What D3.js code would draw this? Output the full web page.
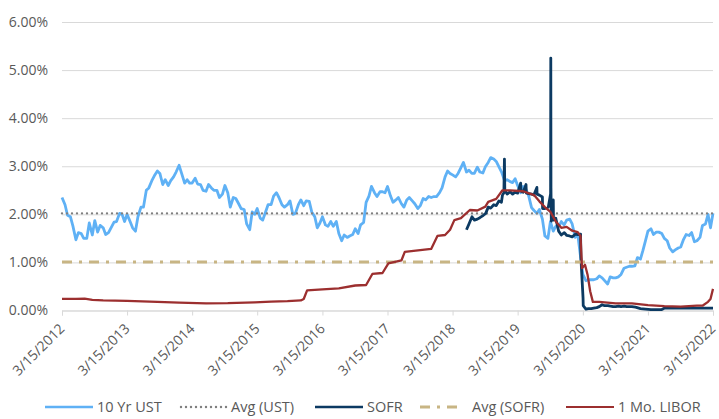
<!DOCTYPE html>
<html>
<head>
<meta charset="utf-8">
<script src="https://cdn.jsdelivr.net/npm/d3@7/dist/d3.min.js"></script>
<style>
	body { margin: 0; background: #fff; }
	svg text { font-family: "Open Sans", sans-serif; fill: #595959; }
</style>
</head>
<body>
<div id="chart"></div>
<script>
// 10 Yr UST, one reading on the 1st and 15th of each month, from 3/15/2012 to 3/15/2022
const ustValues = [
	/* 2012 */ 2.35, 2.20, 1.98, 1.95, 1.76, 1.47, 1.62, 1.60, 1.50, 1.50, 1.82, 1.57, 1.87, 1.63, 1.77, 1.72, 1.58, 1.62, 1.72,
	/* 2013 */ 1.84, 1.85, 2.02, 2.00, 1.85, 2.00, 1.85, 1.72, 1.65, 1.95, 2.15, 2.15, 2.50, 2.55, 2.70, 2.80, 2.90, 2.85, 2.62, 2.72, 2.60, 2.70, 2.78, 2.88,
	/* 2014 */ 3.02, 2.85, 2.65, 2.72, 2.65, 2.65, 2.75, 2.63, 2.62, 2.50, 2.48, 2.62, 2.55, 2.50, 2.50, 2.35, 2.42, 2.60, 2.45, 2.15, 2.35, 2.33, 2.22, 2.12,
	/* 2015 */ 2.10, 1.80, 1.68, 2.05, 2.00, 2.12, 1.92, 1.88, 2.05, 2.20, 2.20, 2.38, 2.45, 2.35, 2.20, 2.15, 2.20, 2.28, 2.00, 2.02, 2.20, 2.30, 2.18, 2.28,
	/* 2016 */ 2.27, 2.05, 1.95, 1.72, 1.82, 1.95, 1.78, 1.75, 1.85, 1.75, 1.85, 1.60, 1.45, 1.57, 1.52, 1.55, 1.58, 1.70, 1.60, 1.78, 1.83, 2.25, 2.38, 2.58,
	/* 2017 */ 2.45, 2.37, 2.47, 2.47, 2.45, 2.58, 2.38, 2.25, 2.30, 2.35, 2.22, 2.15, 2.30, 2.35, 2.28, 2.22, 2.12, 2.18, 2.33, 2.30, 2.37, 2.35, 2.37, 2.37,
	/* 2018 */ 2.45, 2.55, 2.78, 2.90, 2.85, 2.82, 2.78, 2.85, 2.97, 3.08, 2.88, 2.92, 2.85, 2.85, 2.98, 2.88, 2.86, 2.99, 3.08, 3.18, 3.15, 3.10, 2.98, 2.88,
	/* 2019 */ 2.70, 2.72, 2.68, 2.66, 2.74, 2.60, 2.45, 2.58, 2.51, 2.40, 2.14, 2.08, 2.02, 2.10, 1.90, 1.55, 1.50, 1.85, 1.65, 1.75, 1.75, 1.85, 1.78, 1.88,
	/* 2020 */ 1.90, 1.80, 1.52, 1.59, 1.15, 0.75, 0.62, 0.64, 0.64, 0.64, 0.66, 0.72, 0.68, 0.62, 0.55, 0.70, 0.68, 0.68, 0.70, 0.75, 0.88, 0.90, 0.92, 0.92,
	/* 2021 */ 0.93, 1.10, 1.07, 1.25, 1.45, 1.65, 1.70, 1.58, 1.63, 1.63, 1.60, 1.50, 1.45, 1.30, 1.22, 1.26, 1.30, 1.32, 1.48, 1.58, 1.56, 1.62, 1.43, 1.45,
	/* 2022 */ 1.52, 1.77, 1.80, 2.00, 1.72, 2.02
];

const sofrDates = [
	"2018-06-01", "2018-06-15", "2018-07-02", "2018-07-16", "2018-08-01", "2018-08-15", "2018-09-04", "2018-09-17",
	"2018-10-01", "2018-10-15", "2018-11-01", "2018-11-15", "2018-11-30", "2018-12-14", "2018-12-20", "2018-12-28",
	"2018-12-31", "2019-01-02", "2019-01-15", "2019-02-01", "2019-02-15", "2019-03-01", "2019-03-15", "2019-04-01",
	"2019-04-03", "2019-04-15", "2019-05-01", "2019-05-03", "2019-05-15", "2019-06-03", "2019-06-14", "2019-07-01",
	"2019-07-02", "2019-07-15", "2019-08-01", "2019-08-02", "2019-08-15", "2019-09-03", "2019-09-16", "2019-09-17",
	"2019-09-18", "2019-09-20", "2019-10-01", "2019-10-02", "2019-10-15", "2019-10-31", "2019-11-15", "2019-12-02",
	"2019-12-16", "2019-12-31", "2020-01-15", "2020-02-03", "2020-02-14", "2020-03-02", "2020-03-04", "2020-03-16",
	"2020-03-17", "2020-04-01", "2020-04-15", "2020-05-01", "2020-05-15", "2020-06-01", "2020-06-15", "2020-07-01",
	"2020-07-15", "2020-08-03", "2020-08-17", "2020-09-01", "2020-09-15", "2020-10-01", "2020-10-15", "2020-11-02",
	"2020-11-16", "2020-12-01", "2020-12-15", "2021-01-04", "2021-02-01", "2021-03-01", "2021-04-01", "2021-05-03",
	"2021-06-01", "2021-06-17", "2021-07-01", "2021-08-02", "2021-09-01", "2021-10-01", "2021-11-01", "2021-12-01",
	"2022-01-03", "2022-02-01", "2022-03-01", "2022-03-15"
];
const sofrValues = [
	1.68, 1.80, 1.95, 1.88, 1.90, 1.93, 1.98, 2.02,
	2.15, 2.13, 2.20, 2.18, 2.28, 2.25, 2.40, 2.45,
	3.15, 2.50, 2.42, 2.47, 2.42, 2.46, 2.44, 2.65,
	2.48, 2.46, 2.62, 2.44, 2.43, 2.42, 2.40, 2.56,
	2.42, 2.40, 2.36, 2.12, 2.12, 2.15, 2.43, 5.25,
	2.55, 1.86, 2.30, 1.88, 1.92, 1.65, 1.57, 1.62,
	1.56, 1.55, 1.53, 1.59, 1.58, 1.59, 1.10, 0.26,
	0.10, 0.03, 0.04, 0.04, 0.05, 0.06, 0.08, 0.12,
	0.10, 0.10, 0.09, 0.08, 0.08, 0.09, 0.08, 0.09,
	0.08, 0.08, 0.08, 0.07, 0.04, 0.03, 0.02, 0.02,
	0.02, 0.05, 0.05, 0.05, 0.05, 0.05, 0.05, 0.05,
	0.05, 0.05, 0.05, 0.05
];

const liborDates = [
	"2012-03-15", "2012-06-01", "2012-07-20", "2012-09-01", "2012-11-01", "2013-03-15", "2013-09-01", "2014-01-01",
	"2014-06-01", "2014-10-01", "2015-03-01", "2015-06-01", "2015-09-01", "2015-11-15", "2015-12-01", "2015-12-20",
	"2016-03-15", "2016-06-15", "2016-09-15", "2016-11-15", "2016-12-20", "2017-02-15", "2017-03-20", "2017-06-01",
	"2017-06-20", "2017-11-15", "2017-12-20", "2018-02-01", "2018-03-01", "2018-03-25", "2018-05-01", "2018-06-20",
	"2018-08-01", "2018-09-15", "2018-10-01", "2018-11-15", "2018-12-20", "2019-02-01", "2019-04-15", "2019-05-15",
	"2019-06-15", "2019-07-15", "2019-08-15", "2019-09-15", "2019-10-15", "2019-11-15", "2019-12-15", "2020-01-15",
	"2020-02-15", "2020-03-02", "2020-03-10", "2020-03-20", "2020-03-27", "2020-04-10", "2020-04-25", "2020-05-10",
	"2020-06-15", "2020-09-15", "2020-12-15", "2021-03-15", "2021-06-15", "2021-09-15", "2021-12-15", "2022-01-15",
	"2022-02-15", "2022-03-01", "2022-03-15"
];
const liborValues = [
	0.24, 0.24, 0.245, 0.22, 0.21, 0.20, 0.18, 0.165,
	0.15, 0.153, 0.17, 0.185, 0.195, 0.21, 0.24, 0.42,
	0.44, 0.46, 0.52, 0.53, 0.76, 0.78, 0.98, 1.04,
	1.22, 1.28, 1.55, 1.57, 1.68, 1.88, 1.92, 2.09,
	2.08, 2.16, 2.26, 2.32, 2.50, 2.50, 2.48, 2.44,
	2.40, 2.27, 2.15, 2.05, 1.85, 1.72, 1.74, 1.66,
	1.63, 1.55, 0.88, 0.92, 0.95, 0.75, 0.40, 0.18,
	0.18, 0.15, 0.15, 0.11, 0.09, 0.08, 0.10, 0.10,
	0.18, 0.24, 0.45
];

const avgUST = 2.02;
const avgSOFR = 1.01;
const yTicks = [0, 1, 2, 3, 4, 5, 6];
const xTickDates = ["2012-03-15", "2013-03-15", "2014-03-15", "2015-03-15", "2016-03-15", "2017-03-15",
	"2018-03-15", "2019-03-15", "2020-03-15", "2021-03-15", "2022-03-15"];
const legendLabels = ["10 Yr UST", "Avg (UST)", "SOFR", "Avg (SOFR)", "1 Mo. LIBOR"];

const parse = d3.timeParse("%Y-%m-%d");
const fmt = d3.timeFormat("%-m/%-d/%Y");

// half-month sampling of the UST readings
const ust = ustValues.map((v, i) => {
	const d = d3.timeMonth.offset(new Date(2012, 2, 1), Math.floor((i + 1) / 2));
	d.setDate(i % 2 === 1 ? 1 : 15);
	return {date: d, value: v};
});
const sofr = sofrDates.map((d, i) => ({date: parse(d), value: sofrValues[i]}));
const libor = liborDates.map((d, i) => ({date: parse(d), value: liborValues[i]}));

// container
const margin = {top: 22, right: 6, bottom: 108.5, left: 62};
const totalW = 719, totalH = 419;
const width = totalW - margin.left - margin.right;
const height = totalH - margin.top - margin.bottom;

const x = d3.scaleTime()
	.domain([parse(xTickDates[0]), parse(xTickDates[xTickDates.length - 1])])
	.range([0, width]);
const y = d3.scaleLinear()
	.domain([0, 6])
	.range([height, 0]);

/* eslint-disable indent */
const root = d3.select("#chart")
	.append("svg")
		.attr("width", totalW)
		.attr("height", totalH);
const svg = root.append("g")
		.attr("transform", `translate(${margin.left},${margin.top})`);

// gridlines + y labels
svg.append("g")
		.call(d3.axisLeft(y).tickValues(yTicks).tickSize(-width).tickFormat(d => d.toFixed(2) + "%"))
		.call(g => g.select(".domain").remove())
		.call(g => g.selectAll(".tick line").attr("stroke", "#d9d9d9").attr("stroke-width", 1))
	.selectAll("text")
		.attr("x", -14)
		.attr("font-size", "14px")
		.style("font-family", "'Open Sans', sans-serif");

// X axis
svg.append("g")
		.attr("transform", `translate(0,${height})`)
		.call(d3.axisBottom(x).tickValues(xTickDates.map(parse)).tickSize(5).tickFormat(fmt))
		.call(g => g.select(".domain").attr("stroke", "#d9d9d9"))
		.call(g => g.selectAll(".tick line").attr("stroke", "#d9d9d9"))
	.selectAll("text")
		.attr("font-size", "14px")
		.attr("y", 0)
		.attr("dy", 0)
		.attr("transform", "translate(3,19)rotate(-45)")
		.style("text-anchor", "end");

const line = d3.line()
	.x(d => x(d.date))
	.y(d => y(d.value));

// 10 Yr UST
svg.append("path")
		.datum(ust)
		.attr("fill", "none")
		.attr("stroke", "#5fb1f5")
		.attr("stroke-width", 2.8)
		.attr("stroke-linejoin", "round")
		.attr("d", line);

// average of UST
svg.append("line")
		.attr("x1", 0).attr("x2", width)
		.attr("y1", y(avgUST)).attr("y2", y(avgUST))
		.attr("stroke", "#7f7f7f")
		.attr("stroke-width", 2.4)
		.attr("stroke-linecap", "round")
		.attr("stroke-dasharray", "0 5");

// SOFR
svg.append("path")
		.datum(sofr)
		.attr("fill", "none")
		.attr("stroke", "#0c3a62")
		.attr("stroke-width", 2.8)
		.attr("stroke-linejoin", "round")
		.attr("d", line);

// average of SOFR
svg.append("line")
		.attr("x1", 0).attr("x2", width)
		.attr("y1", y(avgSOFR)).attr("y2", y(avgSOFR))
		.attr("stroke", "#c8b584")
		.attr("stroke-width", 3)
		.attr("stroke-dasharray", "10 7 3 7");

// 1 Mo. LIBOR
svg.append("path")
		.datum(libor)
		.attr("fill", "none")
		.attr("stroke", "#9c2f2f")
		.attr("stroke-width", 2.3)
		.attr("stroke-linejoin", "round")
		.attr("d", line);

// legend
const legendX = [45, 179, 315, 420, 566];
const legendStyles = [
	{stroke: "#5fb1f5", width: 2.6, dash: null, cap: "butt"},
	{stroke: "#7f7f7f", width: 2.4, dash: "0 5", cap: "round"},
	{stroke: "#0c3a62", width: 2.6, dash: null, cap: "butt"},
	{stroke: "#c8b584", width: 3, dash: "10 7 3 7", cap: "butt"},
	{stroke: "#9c2f2f", width: 2.2, dash: null, cap: "butt"}
];
const legend = root.append("g")
		.attr("transform", "translate(0,407)");
const items = legend.selectAll("g")
	.data(legendLabels)
	.join("g")
		.attr("transform", (d, i) => `translate(${legendX[i]},0)`);
items.append("line")
		.attr("x1", (d, i) => legendStyles[i].cap === "round" ? 2 : 0)
		.attr("x2", (d, i) => i === 3 ? 41 : 48)
		.attr("y1", 0).attr("y2", 0)
		.attr("stroke", (d, i) => legendStyles[i].stroke)
		.attr("stroke-width", (d, i) => legendStyles[i].width)
		.attr("stroke-linecap", (d, i) => legendStyles[i].cap)
		.attr("stroke-dasharray", (d, i) => legendStyles[i].dash);
items.append("text")
		.attr("x", 52)
		.attr("y", 0)
		.attr("dy", "0.35em")
		.attr("font-size", "14.5px")
		.text(d => d);
/* eslint-enable */
</script>
</body>
</html>
